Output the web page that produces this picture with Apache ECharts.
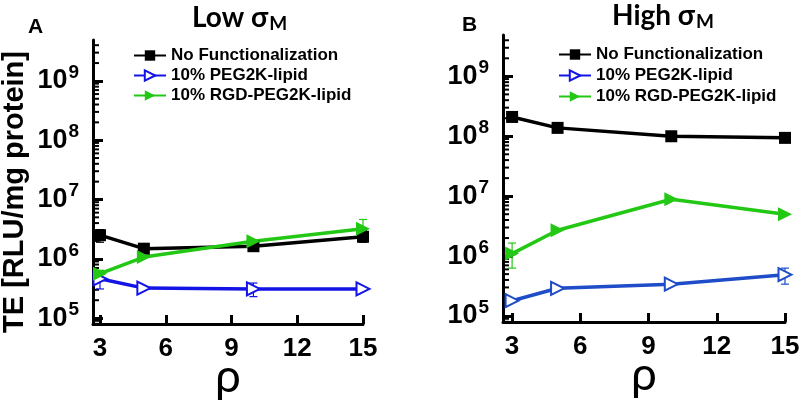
<!DOCTYPE html>
<html><head><meta charset="utf-8">
<script src="https://cdn.jsdelivr.net/npm/echarts@6/dist/echarts.min.js"></script>
<style>html,body{margin:0;padding:0;background:#fff}#c{width:800px;height:400px}</style>
</head><body><div id="c"></div>
<script>
// ---- data ----
const rho = [3, 5, 10, 15];
const xTicks = [3, 6, 9, 12, 15];
const yMajor = [1e5, 1e6, 1e7, 1e8, 1e9];
const seriesNames = ['No Functionalization', '10% PEG2K-lipid', '10% RGD-PEG2K-lipid'];

// Panel A (Low sigma_M)
const lowNoFunc = [2.5e6, 1.48e6, 1.63e6, 2.35e6];
const lowPEG = [4.6e5, 3.2e5, 3.1e5, 3.1e5];
const lowRGD = [5.6e5, 1.07e6, 1.97e6, 3.2e6];
// error bars [x, low, high]
const lowNoFuncErr = [[3, 1.9e6, 3.1e6], [15, 1.9e6, 3.0e6]];
const lowPEGErr = [[3, 3.1e5, 6.2e5], [10, 2.3e5, 3.9e5]];
const lowRGDErr = [[3, 4.8e5, 6.4e5], [15, 2.4e6, 4.6e6]];

// Panel B (High sigma_M)
const highNoFunc = [2.1e8, 1.38e8, 1.0e8, 9.4e7];
const highPEG = [1.8e5, 2.9e5, 3.4e5, 4.9e5];
const highRGD = [1.1e6, 2.7e6, 8.9e6, 5.0e6];
const highPEGErr = [[15, 3.4e5, 6.3e5]];
const highRGDErr = [[3, 6.3e5, 1.65e6]];

// minor tick values (2..9 x decade)
const yMinor = [];
[1e4, 1e5, 1e6, 1e7, 1e8, 1e9].forEach(d => { for (let k = 2; k <= 9; k++) yMinor.push(k * d); });

const yMin = Math.pow(10, 4.9), yMax = Math.pow(10, 9.69);
const FONT = 'Liberation Sans';
const colBlack = '#000000', colGreen = '#22c814';
const colBlueA = '#1414e6', colBlueB = '#1f4cc8';

function pairData(xs, ys) { return xs.map((x, i) => [x, ys[i]]); }

const superLabel = {
  show: true, inside: false, margin: 14,
  customValues: yMajor,
  formatter: v => '{b|10}{s|' + Math.round(Math.log10(v)) + '}',
  rich: {
    b: { fontFamily: FONT, fontWeight: 'bold', fontSize: 27, color: '#000' },
    s: { fontFamily: FONT, fontWeight: 'bold', fontSize: 19, color: '#000', padding: [0, 0, 17, 1] }
  }
};

function yAxisFor(gi, withName) {
  const main = {
    type: 'log', gridIndex: gi, min: yMin, max: yMax, position: 'left',
    axisLine: { show: true, lineStyle: { color: '#000', width: 3 } },
    axisTick: { show: true, inside: true, length: 10, customValues: yMajor, lineStyle: { color: '#000', width: 3 } },
    axisLabel: superLabel,
    splitLine: { show: false }, minorTick: { show: false }
  };
  if (withName) {
    Object.assign(main, {
      name: 'TE [RLU/mg protein]', nameLocation: 'middle', nameRotate: 90, nameGap: 64,
      nameTextStyle: { fontFamily: FONT, fontWeight: 'bold', fontSize: 29, color: '#000', padding: [0, 20, 0, 0] }
    });
  }
  return main;
}

function xAxisFor(gi, xmin) {
  return {
    type: 'value', gridIndex: gi, min: xmin, max: 15,
    axisLine: { show: true, onZero: false, lineStyle: { color: '#000', width: 3 } },
    axisTick: { show: true, inside: true, length: 9, customValues: xTicks, lineStyle: { color: '#000', width: 3 } },
    axisLabel: { customValues: xTicks, margin: 12, fontFamily: FONT, fontWeight: 'bold', fontSize: 26, color: '#000' },
    splitLine: { show: false },
    name: 'ρ', nameLocation: 'middle', nameGap: 30, nameMoveOverlap: false,
    nameTextStyle: { fontFamily: 'Lato', fontSize: 46, color: '#000' }
  };
}

function lineSeries(name, gi, data, color, symbol, size, rot) {
  return {
    name, type: 'line', xAxisIndex: gi, yAxisIndex: gi, data: pairData(rho, data),
    symbol, symbolSize: size, symbolRotate: rot || 0, showSymbol: true,
    lineStyle: { color, width: 3.5 }, itemStyle: { color, borderColor: color, borderWidth: symbol.startsWith('empty') ? 2 : 0 },
    z: 3, animation: false, legendHoverLink: false
  };
}

function errSeries(gi, data, color) {
  return {
    type: 'custom', xAxisIndex: gi, yAxisIndex: gi, data, z: 2, silent: true, animation: false,
    renderItem: (params, api) => {
      const lo = api.coord([api.value(0), api.value(1)]);
      const hi = api.coord([api.value(0), api.value(2)]);
      const w = 4;
      const st = { stroke: color, lineWidth: 1.2 };
      return { type: 'group', children: [
        { type: 'line', shape: { x1: lo[0], y1: lo[1], x2: hi[0], y2: hi[1] }, style: st },
        { type: 'line', shape: { x1: lo[0] - w, y1: lo[1], x2: lo[0] + w, y2: lo[1] }, style: st },
        { type: 'line', shape: { x1: hi[0] - w, y1: hi[1], x2: hi[0] + w, y2: hi[1] }, style: st }
      ] };
    }
  };
}

// minor ticks on the log y axis, placed through the axis scale
function minorTickSeries(gi) {
  return {
    type: 'custom', xAxisIndex: gi, yAxisIndex: gi, silent: true, animation: false, z: 1, clip: false,
    data: yMinor.filter(v => v > yMin && v < yMax).map(v => [15, v]),
    renderItem: (params, api) => {
      const y = api.coord([api.value(0), api.value(1)])[1];
      const x0 = params.coordSys.x;
      return { type: 'line', shape: { x1: x0, y1: y, x2: x0 + 6, y2: y }, style: { stroke: '#000', lineWidth: 2 } };
    }
  };
}

const titleRich = {
  a: { fontFamily: 'Lato', fontWeight: 'bold', fontSize: 28, color: '#000' },
  m: { fontFamily: 'Lato', fontWeight: 'bold', fontSize: 19, color: '#000', padding: [12, 0, 0, 1] }
};

const legendStyle = { fontFamily: FONT, fontWeight: 'bold', fontSize: 17, color: '#000' };

const chart = echarts.init(document.getElementById('c'), null, { renderer: 'canvas' });
chart.setOption({
  backgroundColor: '#fff',
  animation: false,
  title: [
    { text: 'A', left: 23, top: 12, textStyle: { fontFamily: FONT, fontWeight: 'bold', fontSize: 21, color: '#000' } },
    { text: '{a|Low σ}{m|M}', left: 187, top: -3, textStyle: { rich: titleRich } },
    { text: 'B', left: 457, top: 10, textStyle: { fontFamily: FONT, fontWeight: 'bold', fontSize: 21, color: '#000' } },
    { text: '{a|High σ}{m|M}', left: 607, top: -5, textStyle: { rich: titleRich } }
  ],
  grid: [
    { left: 93, top: 40, width: 270, height: 284, outerBoundsMode: 'none', containLabel: false },
    { left: 503, top: 35, width: 282, height: 287, outerBoundsMode: 'none', containLabel: false }
  ],
  xAxis: [xAxisFor(0, 2.68), xAxisFor(1, 2.6)],
  yAxis: [yAxisFor(0, true), yAxisFor(1, false)],
  legend: [
    { data: seriesNames, orient: 'vertical', left: 128, top: 42, itemGap: 3, itemWidth: 32, itemHeight: 13,
      textStyle: legendStyle, selectedMode: false },
    { data: seriesNames, orient: 'vertical', left: 553, top: 41, itemGap: 4, itemWidth: 32, itemHeight: 13,
      textStyle: legendStyle, selectedMode: false }
  ],
  series: [
    minorTickSeries(0),
    minorTickSeries(1),
    errSeries(0, lowNoFuncErr, colBlack),
    errSeries(0, lowPEGErr, colBlueA),
    errSeries(0, lowRGDErr, colGreen),
    lineSeries(seriesNames[0], 0, lowNoFunc, colBlack, 'rect', 12),
    lineSeries(seriesNames[1], 0, lowPEG, colBlueA, 'emptyTriangle', 13, -90),
    lineSeries(seriesNames[2], 0, lowRGD, colGreen, 'triangle', 14, -90),
    errSeries(1, highPEGErr, colBlueB),
    errSeries(1, highRGDErr, colGreen),
    lineSeries(seriesNames[0], 1, highNoFunc, colBlack, 'rect', 12),
    lineSeries(seriesNames[1], 1, highPEG, colBlueB, 'emptyTriangle', 13, -90),
    lineSeries(seriesNames[2], 1, highRGD, colGreen, 'triangle', 14, -90)
  ]
});
</script></body></html>
